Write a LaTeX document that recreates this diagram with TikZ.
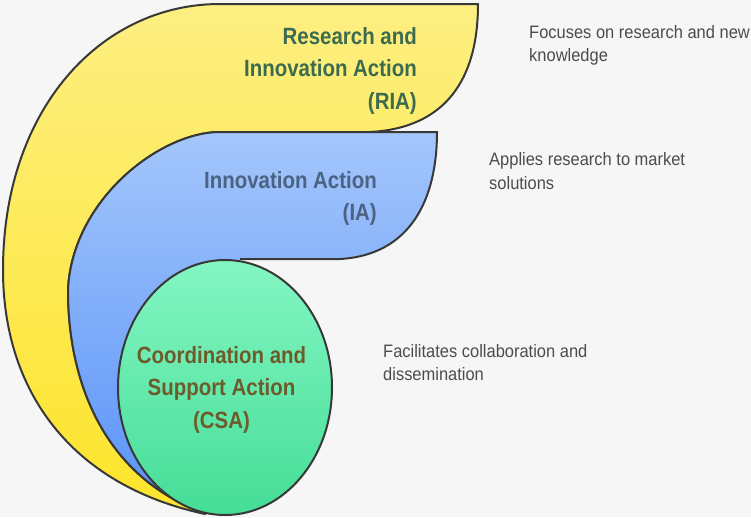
\documentclass[tikz,border=0pt]{standalone}
\usepackage{fontspec}
\setmainfont{Liberation Sans}
\newfontfamily\titlefont[FakeStretch=0.87]{Liberation Sans}
\newfontfamily\descfont[FakeStretch=0.915]{Liberation Sans}
\definecolor{bgcol}{HTML}{F6F6F6}
\definecolor{edgecol}{HTML}{383838}
\definecolor{yelTop}{HTML}{FDEF82}
\definecolor{yelBot}{HTML}{FDE42A}
\definecolor{bluTop}{HTML}{A4C6FB}
\definecolor{bluBot}{HTML}{5892F8}
\definecolor{grnTop}{HTML}{84F6C3}
\definecolor{grnBot}{HTML}{45DD97}
\definecolor{riaText}{HTML}{3D6B4F}
\definecolor{iaText}{HTML}{4B6282}
\definecolor{csaText}{HTML}{6E5B2B}
\definecolor{descText}{HTML}{4C4C4C}
\begin{document}
\begin{tikzpicture}[x=1pt,y=-1pt,
  outline/.style={draw=edgecol,line width=2pt,line join=round},
  titletext/.style={inner sep=0pt,font=\titlefont\bfseries\fontsize{23.5}{32.5}\selectfont},
  desctext/.style={inner sep=0pt,anchor=north west,align=left,text=descText,font=\descfont\fontsize{18}{23.5}\selectfont}]
\fill[bgcol] (0,0) rectangle (751,517);
\useasboundingbox (0,0) rectangle (751,517);
% yellow band (RIA)
\path[outline,top color=yelTop,bottom color=yelBot]
  (205,514) .. controls (70,485) and (3,390) .. (3,270)
  .. controls (3,110) and (100,4) .. (220,4) -- (478,4)
  .. controls (478,80) and (445,128) .. (370,132) -- (220,132)
  .. controls (160,132) and (72,200) .. (68,290)
  .. controls (68,390) and (110,480) .. (205,513) -- cycle;
% blue band (IA)
\path[top color=bluTop,bottom color=bluBot]
  (205,513) .. controls (110,480) and (68,390) .. (68,290)
  .. controls (72,200) and (160,132) .. (220,132) -- (437,132)
  .. controls (437,200) and (410,255) .. (340,259) -- (240,259)
  -- (225,387) -- cycle;
\draw[outline]
  (205,513) .. controls (110,480) and (68,390) .. (68,290)
  .. controls (72,200) and (160,132) .. (220,132) -- (437,132)
  .. controls (437,200) and (410,255) .. (340,259) -- (240,259);
% green ellipse (CSA)
\path[outline,top color=grnTop,bottom color=grnBot]
  (225,387.5) ellipse [x radius=107, y radius=127.5];
% titles
\node[titletext,anchor=north east,align=right,text=riaText] (ria) at (417,26.8)
  {Research and\\Innovation Action\\(RIA)};
\node[titletext,anchor=north east,align=right,text=iaText] (ia) at (377,171.2)
  {Innovation Action\\(IA)};
\node[titletext,anchor=north,align=center,text=csaText] (csa) at (221.5,345.8)
  {Coordination and\\Support Action\\(CSA)};
% descriptions
\node[desctext] (riadesc) at (529,25.2) {Focuses on research and new\\knowledge};
\node[desctext] (iadesc) at (489,152.6) {Applies research to market\\solutions};
\node[desctext] (csadesc) at (383,344.2) {Facilitates collaboration and\\dissemination};
\end{tikzpicture}
\end{document}
